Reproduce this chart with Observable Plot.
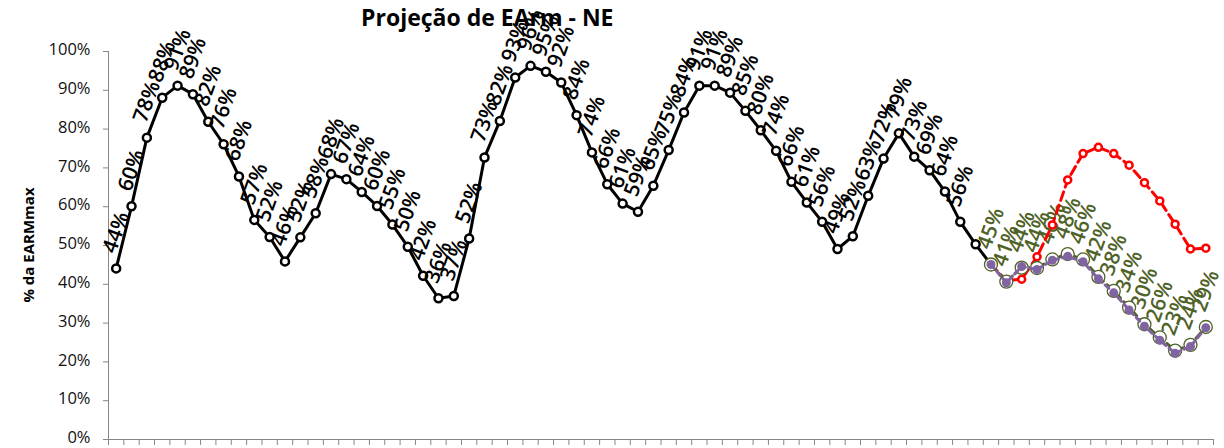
<!DOCTYPE html>
<html><head><meta charset="utf-8">
<script src="https://cdn.jsdelivr.net/npm/d3@7"></script>
<script src="https://cdn.jsdelivr.net/npm/@observablehq/plot@0.6"></script>
<style>
body{margin:0;background:#fff;}
#wrap{position:relative;width:1224px;height:448px;overflow:hidden;}
#title{position:absolute;left:361px;top:6px;font:bold 23px "Open Sans";line-height:1;color:#000;white-space:nowrap;}
#ylab{position:absolute;left:28px;top:245px;transform:translate(-50%,-50%) rotate(-90deg);font:bold 15px "Open Sans";white-space:nowrap;color:#000;}
#chart{position:absolute;left:0;top:0;}
</style></head><body>
<div id="wrap"><div id="title">Projeção de EArm - NE</div><div id="ylab">% da EARMmax</div><div id="chart"></div></div>
<script>
// number of monthly categories on the x axis
const nCategories = 72;
// index where the projections start
const forecastStart = 57;
// observed stored energy (% of EARMmax)
const observed = [44.1,60.1,77.8,88.1,91.2,89.0,81.9,76.1,67.8,56.6,52.2,45.9,52.1,58.3,68.4,67.1,63.8,60.2,55.4,49.7,42.2,36.4,37.0,51.8,72.7,82.1,93.3,96.3,94.8,92.0,83.6,74.0,65.8,60.8,58.7,65.4,74.6,84.3,91.2,91.2,89.4,84.7,79.7,74.4,66.4,61.1,56.1,49.1,52.4,62.8,72.4,78.9,72.9,69.4,63.9,56.1,50.3,45.1];
// number of observed points carrying a data label
const observedLabelled = 56;
// projection series (from forecastStart)
const projGreen  = [45.1,40.7,44.3,44.2,46.4,47.8,46.4,41.9,38.3,34.0,29.7,26.3,22.9,24.4,29.0];
const projPurple = [45.1,40.4,44.6,43.8,46.2,47.2,45.8,41.4,37.8,33.4,29.2,25.6,22.2,24.0,28.8];
const projRed    = [45.1,41.0,41.3,47.1,55.3,66.9,73.7,75.3,73.7,70.7,66.2,61.5,55.5,49.1,49.3];
// y tick values
const yTicks = [0,10,20,30,40,50,60,70,80,90,100];

const obsData = observed.map((v,i)=>({i, v}));
const toData = arr => arr.map((v,k)=>({i: forecastStart + k, v}));
const green = toData(projGreen), purple = toData(projPurple), red = toData(projRed);
const xDomain = [-0.5, nCategories - 0.5];
const boundaries = d3.range(nCategories + 1).map(k => k - 0.5);
const pct = d => Math.round(d.v) + "%";
const labelOpts = {x: "i", y: "v", text: pct, rotate: -70, dx: 0, dy: -36, fontSize: 21, fontWeight: 600, textAnchor: "middle"};

const chart = Plot.plot({
  width: 1224, height: 448,
  marginLeft: 108, marginRight: 11, marginTop: 51, marginBottom: 9,
  style: {fontFamily: "Open Sans", fontSize: "16px", background: "transparent", overflow: "visible"},
  x: {domain: xDomain},
  y: {domain: [0, 100]},
  marks: [
    Plot.ruleY([0], {stroke: "#868686"}),
    Plot.ruleX([xDomain[0]], {stroke: "#868686"}),
    Plot.axisX({ticks: boundaries, tickSize: 6, tickFormat: () => "", stroke: "#868686", label: null}),
    Plot.axisY({ticks: yTicks, tickSize: 5, tickFormat: () => "", stroke: "#868686", label: null}),
    Plot.axisY({ticks: yTicks, tickSize: 0, tickPadding: 18, dy: -1.5, tickFormat: d => d + "%", fill: "#111", fontSize: 16.5, label: null}),
    Plot.line(obsData, {x: "i", y: "v", stroke: "black", strokeWidth: 3}),
    Plot.dot(obsData, {x: "i", y: "v", r: 4, fill: "white", stroke: "black", strokeWidth: 2.5}),
    Plot.text(obsData.slice(0, observedLabelled), {...labelOpts, fill: "black"}),
    Plot.text(green, {...labelOpts, fill: "#4f6228"}),
    Plot.line(red, {x: "i", y: "v", stroke: "#ff0000", strokeWidth: 3, strokeDasharray: "9,5"}),
    Plot.dot(red, {x: "i", y: "v", r: 3.5, fill: "white", stroke: "#ff0000", strokeWidth: 2.5}),
    Plot.line(green, {x: "i", y: "v", stroke: "#4f6228", strokeWidth: 3, strokeDasharray: "7,5"}),
    Plot.dot(green, {x: "i", y: "v", r: 6.5, fill: "white", stroke: "#4f6228", strokeWidth: 1.3}),
    Plot.line(purple, {x: "i", y: "v", stroke: "#8064a2", strokeWidth: 3, strokeDasharray: "5,4"}),
    Plot.dot(purple, {x: "i", y: "v", r: 4.5, fill: "#8064a2"})
  ]
});
document.getElementById("chart").appendChild(chart);
</script>
</body></html>
